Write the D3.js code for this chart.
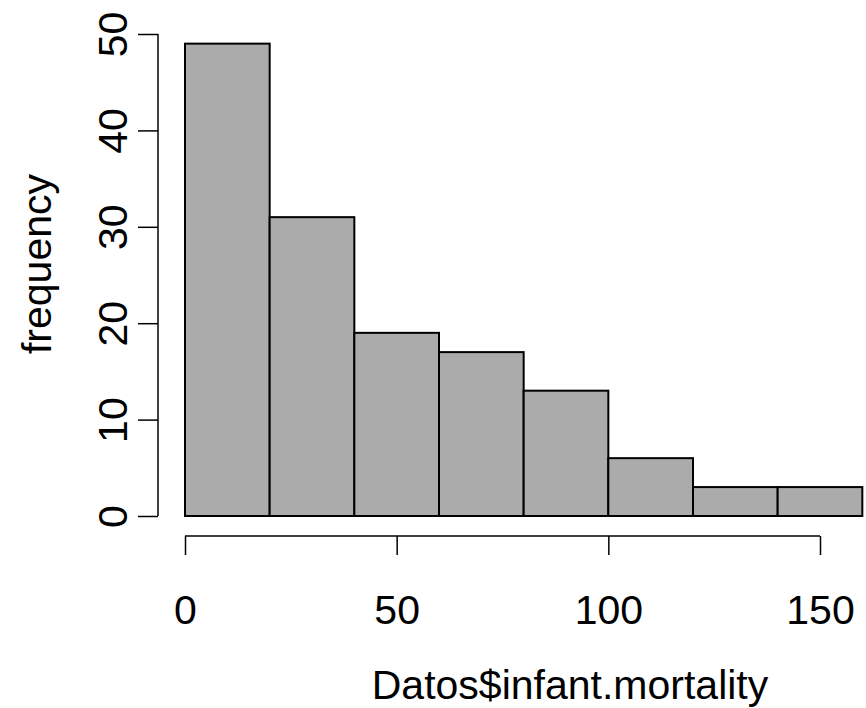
<!DOCTYPE html>
<html>
<head>
<meta charset="utf-8">
<script src="https://cdn.jsdelivr.net/npm/d3@7"></script>
<style>
  body { margin: 0; background: #fff; }
  text { font-family: "Liberation Sans", Arial, sans-serif; fill: #000; }
</style>
</head>
<body>
<svg id="hist" width="866" height="708"></svg>
<script>
// histogram bins (breaks) and counts
var breaks = [0, 20, 40, 60, 80, 100, 120, 140, 160];
var counts = [49, 31, 19, 17, 13, 6, 3, 3];
var xTicks = [0, 50, 100, 150];
var yTicks = [0, 10, 20, 30, 40, 50];

var svg = d3.select('#hist');

var x = d3.scaleLinear()
	.domain([0, 150])
	.range([185, 820]);

var y = d3.scaleLinear()
	.domain([0, 50])
	.range([516, 34]);

var bins = counts.map(function(c, i) {
	return {x0: breaks[i], x1: breaks[i + 1], n: c};
});

svg.selectAll('rect.bar')
	.data(bins)
	.enter().append('rect')
	.attr('class', 'bar')
	.attr('x', function(d) { return x(d.x0); })
	.attr('y', function(d) { return y(d.n); })
	.attr('width', function(d) { return x(d.x1) - x(d.x0); })
	.attr('height', function(d) { return y(0) - y(d.n); })
	.attr('fill', '#ababab')
	.attr('stroke', '#000')
	.attr('stroke-width', 2);

// x axis, R style: line from first to last tick, offset below plot
var xAxis = d3.axisBottom(x)
	.tickValues(xTicks)
	.tickSize(19)
	.tickPadding(40)
	.tickSizeOuter(0)
	.tickFormat(d3.format('d'));

var gx = svg.append('g')
	.attr('transform', 'translate(0,536)')
	.call(xAxis);
gx.select('.domain').attr('stroke-width', 1.5).attr('d', 'M' + x(0) + ',0H' + x(150));
gx.selectAll('.tick line').attr('stroke-width', 1.5);
gx.selectAll('text').style('font-size', '41px').attr('font-family', null);

var yAxis = d3.axisLeft(y)
	.tickValues(yTicks)
	.tickSize(20)
	.tickSizeOuter(0)
	.tickFormat(d3.format('d'));

var gy = svg.append('g')
	.attr('transform', 'translate(158,0)')
	.call(yAxis);
gy.select('.domain').attr('stroke-width', 1.5).attr('d', 'M0,' + y(0) + 'V' + y(50));
gy.selectAll('.tick line').attr('stroke-width', 1.5);
gy.selectAll('.tick text')
	.style('font-size', '41px')
	.attr('font-family', null)
	.attr('x', null).attr('dy', null)
	.attr('transform', 'translate(-31,0) rotate(-90)')
	.attr('text-anchor', 'middle');

svg.append('text')
	.attr('x', 570)
	.attr('y', 699)
	.attr('text-anchor', 'middle')
	.style('font-size', '41px')
	.text('Datos$infant.mortality');

svg.append('text')
	.attr('transform', 'translate(51,264) rotate(-90)')
	.attr('text-anchor', 'middle')
	.style('font-size', '41px')
	.text('frequency');
</script>
</body>
</html>
